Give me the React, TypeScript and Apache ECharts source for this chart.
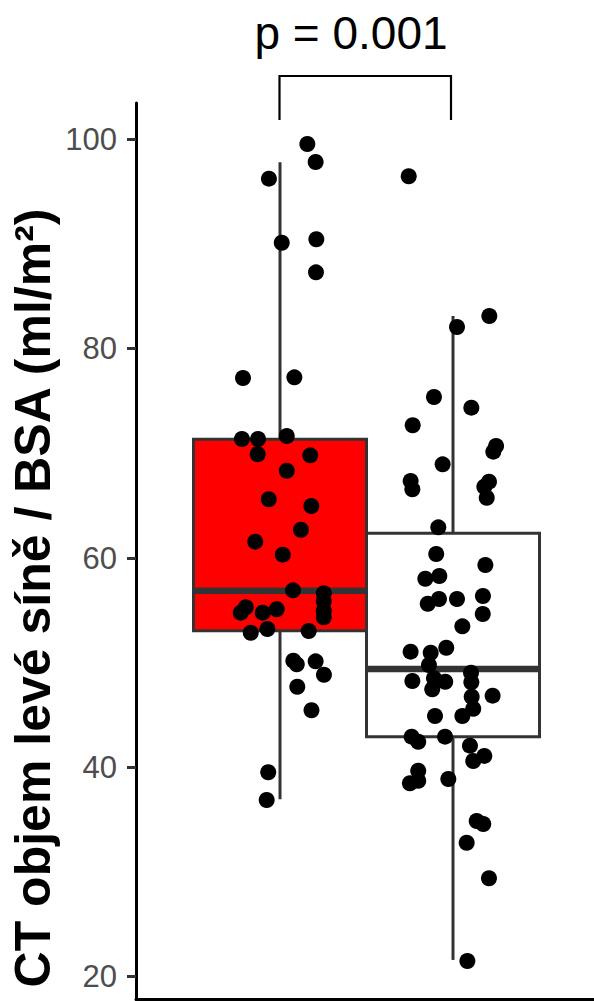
import { useEffect, useRef } from "react";
import * as echarts from "echarts";

// Group positions on the x scale
const groupPos = [1, 2];
const boxFill = ["#FF0000", "#FFFFFF"];

// Boxplot statistics [low whisker, Q1, median, Q3, high whisker]
const boxStats = [
  [36.95, 53.06, 56.88, 71.34, 97.8],
  [21.6, 42.93, 49.4, 62.36, 83.12],
];

// Group 1 points: values and horizontal jitter
const g1Values = [
  99.55, 97.83, 96.24, 90.12, 90.45, 87.29, 77.2, 77.26, 71.37, 71.37, 71.66, 69.91, 69.81, 68.34,
  65.61, 64.97, 62.7, 61.56, 60.32, 56.91, 56.63, 55.86, 55.29, 54.78, 54.78, 55.1, 54.97, 54.33,
  52.86, 53.22, 53.03, 50.19, 49.84, 50.13, 48.85, 47.7, 45.45, 39.53, 36.88,
];
const g1Jitter = [
  0.158, 0.206, -0.064, 0.01, 0.21, 0.208, -0.214, 0.083, -0.22, -0.127, 0.039, -0.129, 0.175, 0.039,
  -0.065, 0.181, 0.121, -0.143, 0.016, 0.075, 0.253, 0.253, -0.198, -0.227, -0.1, -0.019, 0.253, 0.253,
  -0.169, -0.073, 0.166, 0.077, 0.097, 0.206, 0.254, 0.1, 0.182, -0.068, -0.077,
];

// Group 2 points: values and horizontal jitter
const g2Values = [
  96.47, 83.12, 82.07, 75.38, 74.36, 72.68, 70.7, 70.16, 68.95, 67.36, 66.56, 67.29, 66.81, 65.76,
  62.93, 60.38, 59.33, 58.02, 58.28, 55.63, 56.08, 56.08, 56.37, 54.65, 53.47, 51.05, 50.95, 51.43,
  49.78, 48.25, 48.51, 48.18, 47.46, 49.04, 48.13, 46.75, 46.85, 45.6, 44.9, 44.9, 42.93, 42.45,
  42.93, 42.07, 41.09, 40.61, 39.68, 38.48, 38.72, 38.89, 34.87, 34.59, 32.8, 29.4, 21.5,
];
const g2Jitter = [
  -0.256, 0.21, 0.023, -0.11, 0.106, -0.233, 0.249, 0.233, -0.06, -0.245, -0.235, 0.208, 0.181, 0.195,
  -0.085, -0.097, 0.187, -0.16, -0.079, -0.146, -0.081, 0.023, 0.173, 0.172, 0.054, -0.245, -0.129, -0.039,
  -0.139, -0.235, -0.11, -0.045, -0.12, 0.104, 0.106, 0.108, 0.229, 0.117, -0.104, 0.054, -0.239, -0.201,
  -0.046, 0.098, 0.181, 0.117, -0.201, -0.249, -0.201, -0.027, 0.137, 0.175, 0.079, 0.208, 0.083,
];

const yTicks = [20, 40, 60, 80, 100];
const yTitle = "CT objem levé síně / BSA (ml/m²)";
const pLabel = "p = 0.001";

export default function App() {
  const ref = useRef<HTMLDivElement>(null);

  useEffect(() => {
    if (!ref.current) return;
    const chart = echarts.init(ref.current, null, { renderer: "svg" });

    const boxData = groupPos.map((x, i) => [x, ...boxStats[i], i]);
    const pts = [
      ...g1Values.map((v, i) => [groupPos[0] + g1Jitter[i], v]),
      ...g2Values.map((v, i) => [groupPos[1] + g2Jitter[i], v]),
    ];

    const stroke = "#333333";

    chart.setOption({
      animation: false,
      grid: { left: 136, right: 0, top: 103, bottom: 1.5, containLabel: false },
      xAxis: {
        type: "value",
        min: 0.1676,
        max: 2.815,
        axisLine: { show: true, onZero: false, lineStyle: { color: "#000", width: 3 } },
        axisTick: { show: false },
        axisLabel: { show: false },
        splitLine: { show: false },
      },
      yAxis: {
        type: "value",
        min: 17.82,
        max: 103.47,
        axisLine: { show: true, onZero: false, lineStyle: { color: "#000", width: 3 } },
        axisTick: {
          show: true,
          customValues: yTicks,
          length: 9,
          lineStyle: { color: stroke, width: 3 },
        },
        axisLabel: {
          show: true,
          customValues: yTicks,
          fontSize: 31,
          color: "#4d4d4d",
          margin: 19,
          fontFamily: "Liberation Sans, Arial, sans-serif",
        },
        splitLine: { show: false },
      },
      graphic: [
        {
          type: "text",
          x: 32.5,
          y: 598,
          rotation: Math.PI / 2,
          style: {
            text: yTitle,
            font: 'bold 50px "Liberation Sans", Arial, sans-serif',
            fill: "#000",
            align: "center",
            verticalAlign: "middle",
          },
        },
        {
          type: "text",
          x: 351,
          y: 33,
          style: {
            text: pLabel,
            font: '46px "Liberation Sans", Arial, sans-serif',
            fill: "#000",
            align: "center",
            verticalAlign: "middle",
          },
        },
        {
          type: "polyline",
          shape: {
            points: [
              [279.5, 120],
              [279.5, 76],
              [451, 76],
              [451, 120],
            ],
          },
          style: { stroke: "#000", lineWidth: 2.2, fill: null },
        },
      ],
      series: [
        {
          type: "custom",
          data: boxData,
          z: 2,
          renderItem: (params: any, api: any) => {
            const x = api.value(0);
            const low = api.value(1);
            const q1 = api.value(2);
            const med = api.value(3);
            const q3 = api.value(4);
            const high = api.value(5);
            const idx = api.value(6);
            const hw = 0.5;
            const pLowC = api.coord([x, low]);
            const pHighC = api.coord([x, high]);
            const pQ1C = api.coord([x, q1]);
            const pQ3C = api.coord([x, q3]);
            const tl = api.coord([x - hw, q3]);
            const br = api.coord([x + hw, q1]);
            const mL = api.coord([x - hw, med]);
            const mR = api.coord([x + hw, med]);
            return {
              type: "group",
              children: [
                {
                  type: "line",
                  shape: { x1: pQ3C[0], y1: pQ3C[1], x2: pHighC[0], y2: pHighC[1] },
                  style: { stroke, lineWidth: 3 },
                },
                {
                  type: "line",
                  shape: { x1: pQ1C[0], y1: pQ1C[1], x2: pLowC[0], y2: pLowC[1] },
                  style: { stroke, lineWidth: 3 },
                },
                {
                  type: "rect",
                  shape: { x: tl[0], y: tl[1], width: br[0] - tl[0], height: br[1] - tl[1] },
                  style: { fill: boxFill[idx], stroke, lineWidth: 3 },
                },
                {
                  type: "line",
                  shape: { x1: mL[0], y1: mL[1], x2: mR[0], y2: mR[1] },
                  style: { stroke, lineWidth: 6.5 },
                },
              ],
            };
          },
        },
        {
          type: "scatter",
          data: pts,
          symbol: "circle",
          symbolSize: 16,
          itemStyle: { color: "#000", opacity: 1 },
          z: 3,
        },
      ],
    });

    return () => chart.dispose();
  }, []);

  return (
    <div
      ref={ref}
      style={{ position: "fixed", left: 0, top: 0, width: 594, height: 1001, background: "#fff" }}
    />
  );
}
